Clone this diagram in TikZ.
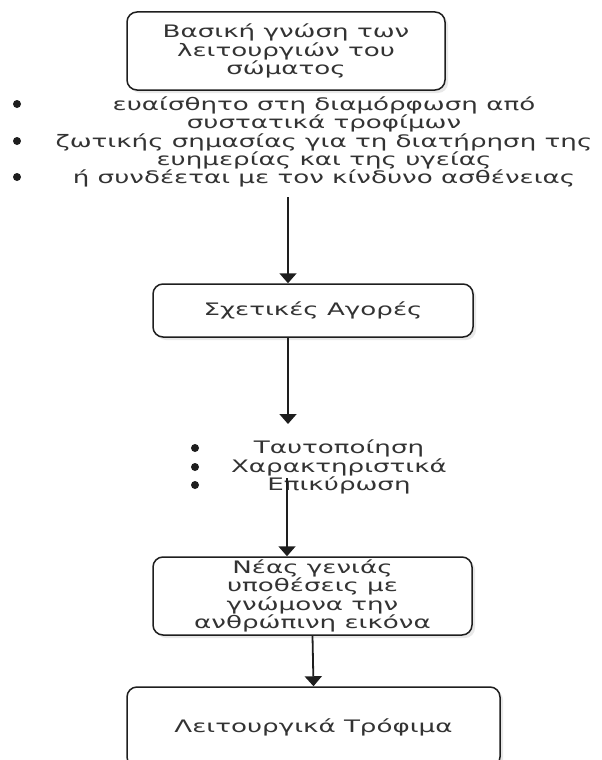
\documentclass[tikz,border=0pt]{standalone}
\usepackage{fontspec}
\setmainfont[FakeStretch=1.52]{DejaVu Sans}
\usetikzlibrary{arrows.meta,positioning,shadows}
\definecolor{Ink}{HTML}{1E1E1E}
\definecolor{Word}{HTML}{333333}
\tikzset{panel/.style={draw=Ink,line width=1.5pt,rounded corners=10pt,fill=white,align=center,inner sep=0pt,drop shadow={opacity=0.18,shadow xshift=3pt,shadow yshift=-3pt}},flow/.style={-{Triangle[width=17pt,length=10pt]},line width=1.8pt,draw=Ink},points/.style={align=center,text=Word,inner sep=0pt},bulletmark/.style={circle,fill=Ink,inner sep=0pt,minimum size=8pt}}

\begin{document}
\begin{tikzpicture}[x=1pt,y=-1pt,font=\fontsize{17.2}{18.4}\selectfont,text=Word]
\clip (0,0) rectangle (602,760);
\node[panel,minimum width=318pt,minimum height=78pt] (basis) at (286,51) {Βασική γνώση των\\λειτουργιών του\\σώματος};
\node[points] (traits) at (324,142) {ευαίσθητο στη διαμόρφωση από\\συστατικά τροφίμων\\ζωτικής σημασίας για τη διατήρηση της\\ευημερίας και της υγείας\\ή συνδέεται με τον κίνδυνο ασθένειας};
\node[bulletmark] (traitA) at (17,104) {};
\node[bulletmark] (traitB) at (17,141) {};
\node[bulletmark] (traitC) at (17,177) {};
\node[panel,minimum width=320pt,minimum height=53pt] (markets) at (313,310.5) {Σχετικές Αγορές};
\node[points] (steps) at (339,467) {Ταυτοποίηση\\Χαρακτηριστικά\\Επικύρωση};
\node[bulletmark] (stepA) at (195,448) {};
\node[bulletmark] (stepB) at (195,467) {};
\node[bulletmark] (stepC) at (195,485) {};
\node[panel,minimum width=319pt,minimum height=78pt] (hypo) at (312.5,596) {Νέας γενιάς\\υποθέσεις με\\γνώμονα την\\ανθρώπινη εικόνα};
\node[panel,minimum width=373pt,minimum height=80pt] (foods) at (313.5,727) {Λειτουργικά Τρόφιμα};
\coordinate (axis) at (288,0);
\coordinate (startA) at (288,197);
\coordinate (tipB) at (288,424);
\coordinate (startC) at (287,478);
\draw[flow] (startA) -- (markets.north -| startA);
\draw[flow] (markets.south -| axis) -- (tipB);
\draw[flow] (startC) -- (hypo.north -| startC);
\draw[flow] (hypo.south) -- (foods.north);
\end{tikzpicture}
\end{document}
